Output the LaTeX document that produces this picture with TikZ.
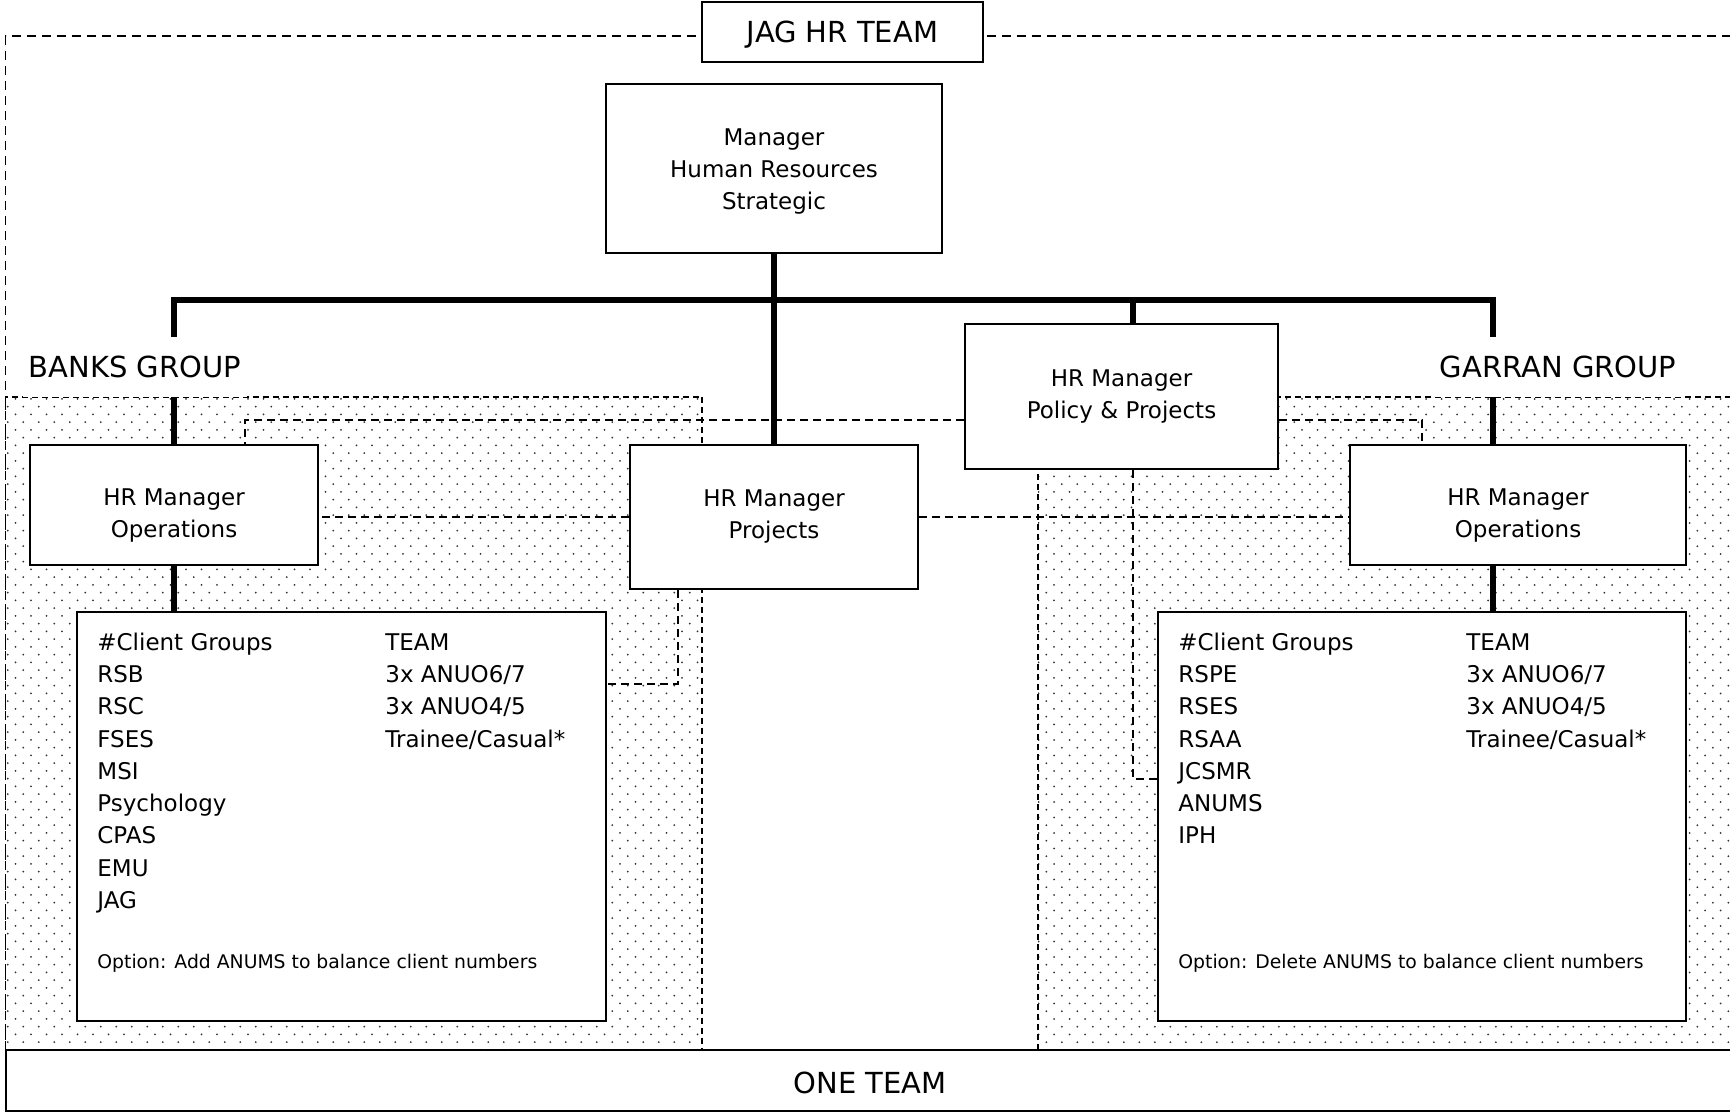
\documentclass[tikz,border=0pt]{standalone}
\usepackage{fontspec}
\setmainfont{DejaVu Sans}
\usetikzlibrary{patterns}
\pgfdeclarepatternformonly{staggerdots}{\pgfpoint{-0.7pt}{-0.7pt}}{\pgfpoint{7.05pt}{7.05pt}}{\pgfpoint{7.75pt}{7.75pt}}{%
    \pgfpathcircle{\pgfpoint{0pt}{0pt}}{0.5pt}%
    \pgfpathcircle{\pgfpoint{3.875pt}{3.875pt}}{0.5pt}%
    \pgfusepath{fill}}
\newcommand{\midfont}{\fontsize{11.5}{16}\selectfont}
\newcommand{\bigfont}{\fontsize{14.5}{17}\selectfont}
\newcommand{\notefont}{\fontsize{9.4}{11}\selectfont}

\begin{document}
\begin{tikzpicture}[x=0.5pt,y=0.5pt]
    \tikzstyle{every node}+=[inner sep=0pt]
    \tikzstyle{box}=[draw=black,line width=1pt,fill=white,align=center,font=\midfont]
    \tikzstyle{trunk}=[black,line width=3.2pt]
    \tikzstyle{link}=[black,line width=0.8pt,dash pattern=on 4pt off 2.5pt]
    \tikzstyle{region}=[pattern=staggerdots,pattern color=black!80,draw=black,line width=0.6pt,dash pattern=on 3pt off 2pt]
    \tikzstyle{grouplabel}=[fill=white,font=\bigfont,minimum height=30pt,inner xsep=3pt]
    \tikzstyle{item}=[anchor=base west,font=\midfont]
    \useasboundingbox (0,0) rectangle (1730,-1112);
    \draw [region] (5.5,-1050) -- (5.5,-397) -- (702,-397) -- (702,-1050);
    \draw [region] (1038,-1050) -- (1038,-397) -- (1740,-397) -- (1740,-1050);
    \draw [black,line width=0.6pt,dash pattern=on 4.5pt off 3pt] (5.5,-1050) -- (5.5,-36) -- (1740,-36);
    \node [box,font=\bigfont,text height=11pt,text depth=0pt,minimum width=140.5pt,minimum height=30pt] (jag) at (842.5,-32) {JAG HR TEAM};
    \node [box,minimum width=168pt,minimum height=84.5pt] (strat) at (774,-168.5) {\rule{0pt}{11pt}Manager\\Human Resources\\Strategic};
    \node [box,minimum width=156.5pt,minimum height=72.5pt] (policy) at (1121.5,-396.5) {HR Manager\\Policy \& Projects};
    \node [box,minimum width=144pt,minimum height=72pt] (proj) at (774,-517) {HR Manager\\Projects};
    \node [box,minimum width=144pt,minimum height=60pt] (opsL) at (174,-505) {\rule{0pt}{19pt}HR Manager\\Operations};
    \node [box,minimum width=168pt,minimum height=60pt] (opsR) at (1518,-505) {\rule{0pt}{19pt}HR Manager\\Operations};
    \node [box,minimum width=264.5pt,minimum height=204.5pt] (cliL) at (341.5,-816.5) {};
    \node [box,minimum width=264pt,minimum height=204.5pt] (cliR) at (1422,-816.5) {};
    \node [box,font=\bigfont,text height=12.8pt,text depth=0pt,minimum width=864pt,minimum height=30.5pt] (one) at (870,-1080.5) {ONE TEAM};
    \coordinate (busR) at (1493,-300);
    \coordinate (polX) at (1133,-300);
    \draw [trunk] (strat.south) -- (proj.north);
    \draw [trunk] (opsL.north) |- (busR) -- (busR |- opsR.north);
    \draw [trunk] (polX) -- (polX |- policy.north);
    \draw [trunk] (opsL.south) -- (opsL.south |- cliL.north);
    \draw [trunk] (busR |- opsR.south) -- (busR |- cliR.north);
    \draw [link] ([yshift=-11.75pt]policy.west) -| ([xshift=35.5pt]opsL.north);
    \draw [link] ([yshift=-11.75pt]policy.east) -| ([xshift=-48pt]opsR.north);
    \draw [link] (proj.west) -- (proj.west -| opsL.east);
    \draw [link] (proj.east) -- (proj.east -| opsR.west);
    \draw [link] ([xshift=-48pt]proj.south) |- ([yshift=-36.5pt]cliL.north east);
    \draw [link] (polX |- policy.south) |- ([yshift=-84pt]cliR.north west);
    \node [grouplabel] (banks) at (135,-367) {BANKS GROUP};
    \node [grouplabel] (garran) at (1558,-367) {GARRAN GROUP};
    \foreach \txt [count=\i from 0] in {\#Client Groups,RSB,RSC,FSES,MSI,Psychology,CPAS,EMU,JAG}
        \node [item] (banksgrp\i) at ([xshift=10.5pt,yshift={-19.6pt-16.135pt*\i}]cliL.north west) {\txt};
    \foreach \txt [count=\i from 0] in {TEAM,3x ANUO6/7,3x ANUO4/5,Trainee/Casual*}
        \node [item] (banksteam\i) at ([xshift=154.5pt,yshift={-19.6pt-16.135pt*\i}]cliL.north west) {\txt};
    \foreach \txt [count=\i from 0] in {\#Client Groups,RSPE,RSES,RSAA,JCSMR,ANUMS,IPH}
        \node [item] (garrangrp\i) at ([xshift=10.5pt,yshift={-19.6pt-16.135pt*\i}]cliR.north west) {\txt};
    \foreach \txt [count=\i from 0] in {TEAM,3x ANUO6/7,3x ANUO4/5,Trainee/Casual*}
        \node [item] (garranteam\i) at ([xshift=154.5pt,yshift={-19.6pt-16.135pt*\i}]cliR.north west) {\txt};
    \node [item,font=\notefont] (banksopt) at ([xshift=10.5pt,yshift=-178.5pt]cliL.north west) {Option: Add ANUMS to balance client numbers};
    \node [item,font=\notefont] (garranopt) at ([xshift=10.5pt,yshift=-178.5pt]cliR.north west) {Option: Delete ANUMS to balance client numbers};
\end{tikzpicture}
\end{document}
